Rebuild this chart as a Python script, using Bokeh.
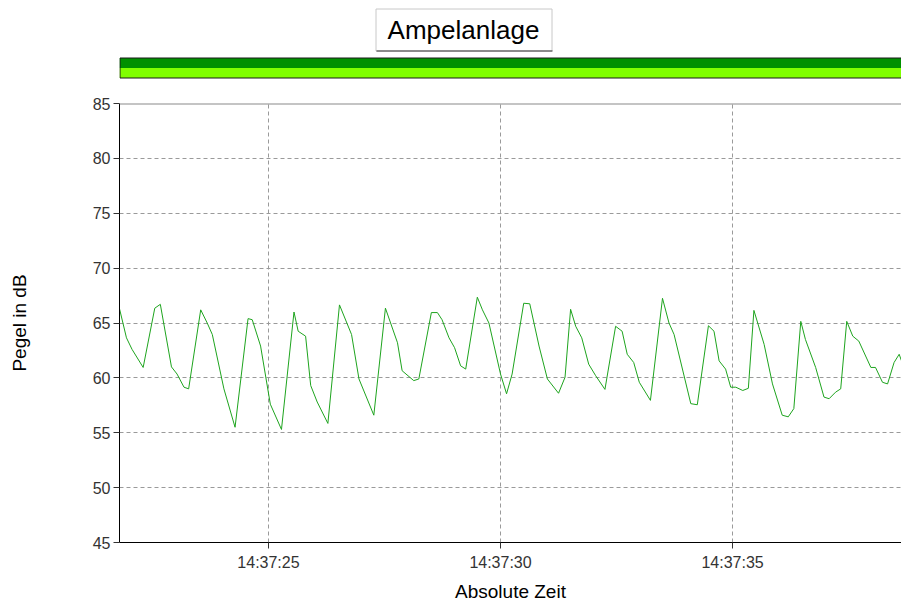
from bokeh.plotting import figure
from bokeh.layouts import column
from bokeh.models import Range1d, FixedTicker, Span
from bokeh.embed import file_html
from bokeh.resources import INLINE
from bokeh.core.properties import value

title_text = "Ampelanlage"
x_label = "Absolute Zeit"
y_label = "Pegel in dB"

# seconds after 14:37:00
time_s = [21.79, 21.94, 22.06, 22.30, 22.55, 22.67, 22.91, 23.03, 23.18, 23.28,
          23.54, 23.68, 23.79, 24.04, 24.28, 24.56, 24.65, 24.83, 25.04, 25.28,
          25.55, 25.64, 25.80, 25.91, 26.05, 26.28, 26.53, 26.79, 26.95, 27.27,
          27.52, 27.78, 27.88, 28.13, 28.24, 28.51, 28.64, 28.74, 28.89, 29.01,
          29.14, 29.25, 29.50, 29.61, 29.75, 30.00, 30.13, 30.25, 30.50, 30.63,
          30.83, 31.01, 31.25, 31.39, 31.51, 31.62, 31.75, 31.90, 32.05, 32.25,
          32.48, 32.62, 32.73, 32.87, 32.99, 33.23, 33.49, 33.63, 33.74, 34.10,
          34.24, 34.48, 34.60, 34.71, 34.85, 34.96, 35.07, 35.22, 35.34, 35.46,
          35.68, 35.86, 36.07, 36.20, 36.32, 36.47, 36.57, 36.79, 36.97, 37.08,
          37.22, 37.33, 37.46, 37.59, 37.72, 37.98, 38.08, 38.23, 38.34, 38.48,
          38.59, 38.64]
level_db = [66.3, 63.65, 62.6, 60.95, 66.35, 66.7, 61.0, 60.35, 59.15, 59.0,
            66.2, 65.0, 63.95, 59.0, 55.5, 65.4, 65.3, 62.9, 57.6, 55.3,
            66.0, 64.25, 63.8, 59.3, 57.8, 55.85, 66.65, 63.95, 59.9, 56.6,
            66.35, 63.2, 60.65, 59.75, 59.9, 65.95, 65.95, 65.3, 63.65, 62.75,
            61.1, 60.8, 67.35, 66.2, 65.0, 60.35, 58.55, 60.35, 66.8, 66.75,
            62.9, 59.9, 58.6, 60.05, 66.25, 64.7, 63.65, 61.25, 60.2, 58.95,
            64.7, 64.25, 62.15, 61.4, 59.6, 57.95, 67.25, 65.0, 63.95, 57.65,
            57.55, 64.75, 64.25, 61.55, 60.8, 59.15, 59.15, 58.85, 59.05, 66.15,
            63.05, 59.45, 56.6, 56.45, 57.2, 65.15, 63.5, 60.95, 58.25, 58.1,
            58.7, 59.0, 65.15, 63.8, 63.35, 60.95, 60.95, 59.6, 59.45, 61.4,
            62.15, 61.55]

x_ticks = [25, 30, 35]
x_tick_labels = ["14:37:25", "14:37:30", "14:37:35"]
y_ticks = [45, 50, 55, 60, 65, 70, 75, 80, 85]

FONT = "Liberation Sans"

# ---- header: title box and status bar (frame aligned with the chart frame: 119..901 px) ----
hdr = figure(width=901, height=95, x_range=Range1d(119, 901), y_range=Range1d(95, 0),
             min_border=0, min_border_left=119, min_border_right=0,
             toolbar_location=None, output_backend="svg",
             x_axis_location=None, y_axis_location=None)
hdr.grid.visible = False
hdr.outline_line_color = None
hdr.quad(left=[119], right=[902], top=[57.5], bottom=[67.5],
         fill_color="#009000", line_color=None)
hdr.quad(left=[119], right=[902], top=[67.5], bottom=[77.5],
         fill_color="#80ff00", line_color=None)
hdr.quad(left=[119.5], right=[903], top=[57.5], bottom=[77.5],
         fill_color=None, line_color="#1a1a1a", line_width=1)
hdr.quad(left=[375.5], right=[551.5], top=[8.5], bottom=[50.5],
         fill_color="white", line_color="#c8c8c8", line_width=1)
hdr.segment(x0=[376], y0=[50.5], x1=[552], y1=[50.5], line_color="#333333", line_width=1)
hdr.text(x=[463], y=[29], text=[title_text], text_align="center", text_baseline="middle",
         text_font=value(FONT), text_font_size="26px", text_color="black")

# ---- main chart ----
p = figure(width=901, height=509, x_range=Range1d(21.79, 38.64), y_range=Range1d(45, 85),
           min_border_left=119, min_border_right=0, min_border_top=8, min_border_bottom=61,
           toolbar_location=None, output_backend="svg")
p.line(time_s, level_db, line_color="#1ea41e", line_width=1)

p.outline_line_color = None
p.add_layout(Span(location=85, dimension="width", line_color="#8a8a8a", line_width=2))

p.xaxis.ticker = FixedTicker(ticks=x_ticks)
p.xaxis.major_label_overrides = dict(zip(x_ticks, x_tick_labels))
p.yaxis.ticker = FixedTicker(ticks=y_ticks)

for ax in (p.xaxis[0], p.yaxis[0]):
    ax.axis_line_color = "black"
    ax.axis_line_width = 1
    ax.major_tick_in = 0
    ax.major_tick_out = 6
    ax.major_tick_line_color = "#333333"
    ax.minor_tick_line_color = None
    ax.major_label_text_font = FONT
    ax.major_label_text_font_size = "16px"
    ax.major_label_text_color = "#333333"
    ax.axis_label_text_font = FONT
    ax.axis_label_text_font_size = "19px"
    ax.axis_label_text_font_style = "normal"
    ax.axis_label_text_color = "black"

p.xaxis.axis_label = x_label
p.yaxis.axis_label = y_label
p.yaxis.major_label_standoff = 3
p.xaxis.major_label_standoff = 5
p.yaxis.axis_label_standoff = 60
p.xaxis.axis_label_standoff = 7

for g in (p.xgrid[0], p.ygrid[0]):
    g.grid_line_color = "#9a9a9a"
    g.grid_line_dash = "4 3"
    g.grid_line_width = 1

layout = column(hdr, p, spacing=0)
open("out.html", "w").write(file_html(layout, INLINE))
